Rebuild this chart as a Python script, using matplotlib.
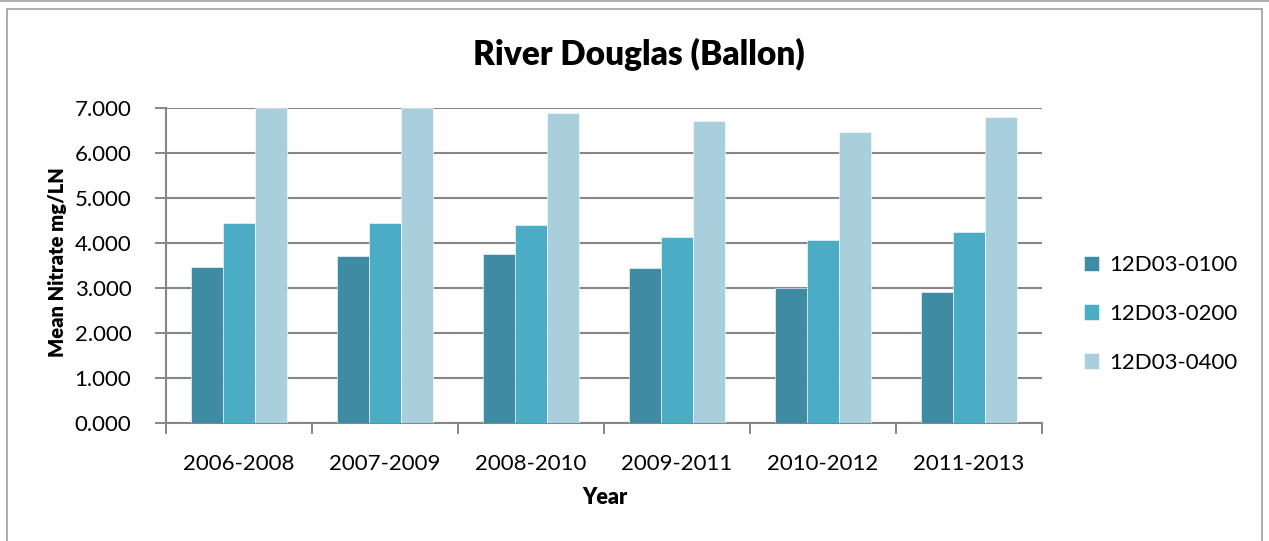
import matplotlib
matplotlib.use("Agg")
import matplotlib.pyplot as plt
import numpy as np
from matplotlib.patches import Rectangle
from matplotlib.lines import Line2D

plt.rcParams['font.family'] = ['Lato', 'DejaVu Sans']

periods = ["2006-2008", "2007-2009", "2008-2010", "2009-2011", "2010-2012", "2011-2013"]
stations = ["12D03-0100", "12D03-0200", "12D03-0400"]
s0100 = [3.47, 3.72, 3.75, 3.44, 3.00, 2.91]
s0200 = [4.45, 4.44, 4.40, 4.13, 4.07, 4.24]
s0400 = [7.00, 7.00, 6.88, 6.72, 6.47, 6.80]
colors = ["#3E8BA3", "#4BACC6", "#A9CFDC"]

W, H = 1269, 541
fig = plt.figure(figsize=(W / 100, H / 100), dpi=100)

# outer chart frame and page rule
fig.patches.append(Rectangle((7 / W, -0.01), (1262 - 7) / W, 1 - 9 / H + 0.01,
                             transform=fig.transFigure, fill=False,
                             edgecolor="#A6A6A6", linewidth=1.3))
fig.lines.append(Line2D([0, 1], [1 - 1 / H, 1 - 1 / H], transform=fig.transFigure,
                        color="#A6A6A6", linewidth=1.3))

ax = fig.add_axes([166 / W, 1 - 423 / H, (1042 - 166) / W, (423 - 108) / H])

x = np.arange(len(periods))
w = 0.221
for i, (vals, name) in enumerate(zip([s0100, s0200, s0400], stations)):
    ax.bar(x + (i - 1) * w, vals, width=w, color=colors[i], label=name,
           edgecolor="#FFFFFF", linewidth=0.4, zorder=3)

ax.set_xlim(-0.5, len(periods) - 0.5)
ax.set_ylim(0, 7)
ax.set_yticks(np.arange(0, 8, 1))
ax.set_yticklabels([f"{v:.3f}" for v in range(8)], fontsize=16)
ax.set_xticks(x)
ax.set_xticklabels(periods, fontsize=16)
ax.set_xticks(np.arange(-0.5, len(periods), 1), minor=True)
ax.tick_params(axis='x', which='major', length=0, pad=22)
ax.tick_params(axis='x', which='minor', length=8, color="#868686", width=1.4, direction='out')
ax.tick_params(axis='y', length=8, color="#868686", width=1.4, direction='out', pad=17)

ax.grid(axis='y', color="#868686", linewidth=1.5, zorder=0)
for side in ['top', 'right']:
    ax.spines[side].set_visible(False)
for side in ['left', 'bottom']:
    ax.spines[side].set_color("#868686")
    ax.spines[side].set_linewidth(1.5)

fig.text(58 / W, 1 - 262 / H, "Mean Nitrate mg/LN", fontsize=14.5, fontweight='heavy',
         rotation=90, ha='center', va='center')
fig.text(605 / W, 1 - 497 / H, "Year", fontsize=15.5, fontweight='heavy',
         ha='center', va='center')
fig.text(639 / W, 1 - 54 / H, "River Douglas (Ballon)", fontsize=24,
         fontweight='heavy', ha='center', va='center')

leg = fig.legend(loc='upper left', bbox_to_anchor=(1064 / W, 1 - 235 / H),
                 frameon=False, fontsize=16, handlelength=0.68, handleheight=0.68,
                 labelspacing=1.3, handletextpad=0.45)

fig.savefig("out.png", dpi=100)
